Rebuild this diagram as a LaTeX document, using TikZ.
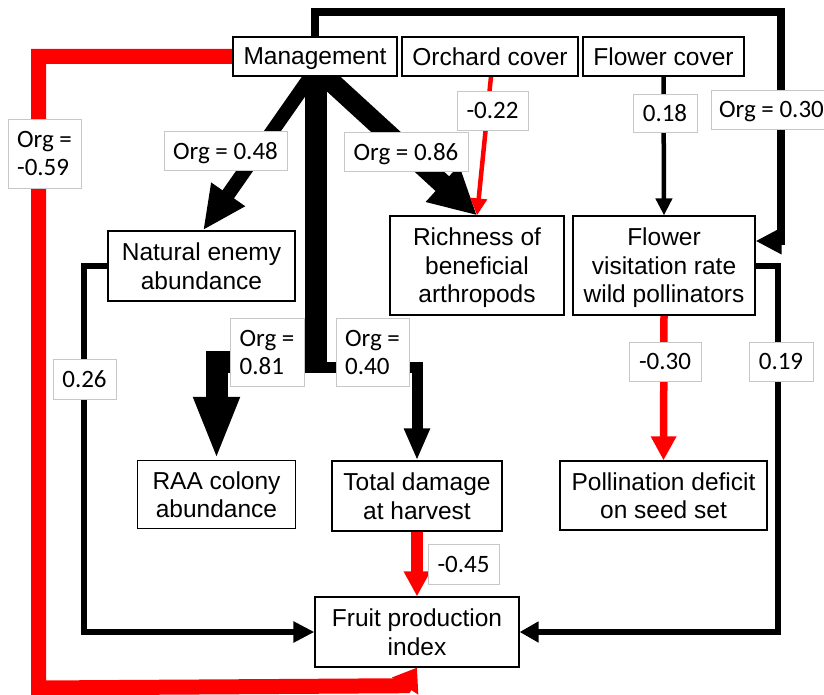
\documentclass[tikz,border=0pt]{standalone}
\usepackage{fontspec}
\setmainfont{Liberation Sans}
\newfontfamily\calib{Carlito}
\usetikzlibrary{arrows.meta}
\pgfdeclarelayer{bg}
\pgfsetlayers{bg,main}
\definecolor{pathred}{RGB}{255,0,0}
\begin{document}
\begin{tikzpicture}[x=1pt,y=-1pt,
  box/.style={draw=black,line width=1.2pt,fill=white,inner sep=0pt,align=center,
              text depth=0pt,font=\fontsize{24.5}{28.5}\selectfont},
  lab/.style={draw=black!22,line width=0.8pt,fill=white,inner sep=0pt,align=left,
              text depth=0pt,font=\calib\fontsize{25}{28}\selectfont},
  conn/.style={line join=miter,line cap=butt},
  negpath/.style={conn,draw=pathred},
  pospath/.style={conn,draw=black},
]
\useasboundingbox (0,0) rectangle (824,695);

% ---------------- nodes ----------------
\node[box,minimum width=164pt,minimum height=39pt] (M)  at (315,56.5)  {Management};
\node[box,minimum width=176pt,minimum height=39pt] (OC) at (490,56.5)  {Orchard cover};
\node[box,minimum width=161pt,minimum height=39pt] (FC) at (663.5,56.5){Flower cover};
\node[box,minimum width=187pt,minimum height=70pt] (NE) at (201.5,266) {Natural enemy\\abundance};
\node[box,minimum width=174pt,minimum height=99pt] (R)  at (477,265.5) {Richness of\\beneficial\\arthropods};
\node[box,minimum width=182pt,minimum height=99pt] (FV) at (664,265.5) {Flower\\visitation rate\\wild pollinators};
\node[box,minimum width=158pt,minimum height=68pt] (RAA) at (216.5,494.5) {RAA colony\\abundance};
\node[box,minimum width=170pt,minimum height=70pt] (TD) at (417,496)   {Total damage\\at harvest};
\node[box,minimum width=207pt,minimum height=69pt] (PD) at (663.5,495.5){Pollination deficit\\on seed set};
\node[box,minimum width=204pt,minimum height=70pt] (F)  at (417,632)   {Fruit production\\index};

% ---------------- labels ----------------
\node[lab,minimum width=73pt,minimum height=69pt]  (l59) at (44.5,153.5) {Org =\\-0.59};
\node[lab,minimum width=123pt,minimum height=39pt] (l48) at (225.5,150.5) {Org = 0.48};
\node[lab,minimum width=124pt,minimum height=39pt] (l86) at (406,151.5) {Org = 0.86};
\node[lab,minimum width=71pt,minimum height=39pt]  (l22) at (492.5,110.5) {-0.22};
\node[lab,minimum width=64pt,minimum height=38pt]  (l18) at (665,113) {0.18};
\node[lab,minimum width=121pt,minimum height=39pt] (l30) at (771.5,109.5) {Org = 0.30};
\node[lab,minimum width=63pt,minimum height=40pt]  (l26) at (84.5,379) {0.26};
\node[lab,minimum width=74pt,minimum height=68pt]  (l81) at (267,352) {Org =\\0.81};
\node[lab,minimum width=73pt,minimum height=68pt]  (l40) at (372.5,352) {Org =\\0.40};
\node[lab,minimum width=72pt,minimum height=39pt]  (l30b) at (665,361.5) {-0.30};
\node[lab,minimum width=64pt,minimum height=39pt]  (l19) at (781,361.5) {0.19};
\node[lab,minimum width=71pt,minimum height=40pt]  (l45) at (463.5,564) {-0.45};

% ---------------- connectors ----------------
\begin{pgfonlayer}{bg}
\coordinate (tb) at (316,362);
\coordinate (tr) at (316,367);
% Management -> RAA (trunk)
\draw[pospath,line width=22pt,-{Triangle[length=63pt,width=42pt]}]
  ([xshift=1pt,yshift=4pt]M.south) -- (tb) -| (RAA.north);
% Management -> Total damage
\draw[pospath,line width=11pt,-{Triangle[length=32pt,width=24pt]}]
  (tr) -| (TD.north);
% Management -> Natural enemy
\draw[pospath,line width=14pt,-{Triangle[length=44pt,width=38pt]}]
  ([xshift=-1pt,yshift=5pt]M.south) -- ([xshift=1.5pt]NE.north);
% Management -> Richness
\draw[pospath,line width=20pt,-{Triangle[length=47pt,width=46pt]}]
  ([xshift=5pt,yshift=5pt]M.south) -- (R.north);
% Orchard cover -> Richness
\draw[negpath,line width=4.5pt,-{Triangle[length=17pt,width=16pt]}]
  ([xshift=1pt]OC.south) -- (R.north);
% Flower cover -> visitation
\draw[pospath,line width=4.5pt,-{Triangle[length=17pt,width=16pt]}]
  (FC.south) -- (FV.north);
% Management -> visitation (Org = 0.30)
\draw[pospath,line width=7.5pt,-{Triangle[length=26pt,width=25pt]}]
  (M.north) -- (315,12) -| (781,241) -- ([yshift=24.5pt]FV.east);
% visitation -> Fruit (0.19)
\draw[pospath,line width=6pt,-{Triangle[length=19pt,width=20pt]}]
  ([yshift=-0.5pt]FV.east) -- (778,266) |- (F.east);
% Natural enemy -> Fruit (0.26)
\draw[pospath,line width=6pt,-{Triangle[length=21pt,width=20pt]}]
  (NE.west) -- (84,266) |- (F.west);
% Total damage -> Fruit (-0.45)
\draw[negpath,line width=12pt,-{Triangle[length=25pt,width=25pt]}]
  (TD.south) -- (F.north);
% visitation -> Pollination deficit (-0.30)
\draw[negpath,line width=7.5pt,-{Triangle[length=24pt,width=24pt]}]
  (FV.south) -- (PD.north);
% Management -> Fruit (Org = -0.59)
\draw[negpath,line width=15pt,-{Triangle[length=22pt,width=30pt]}]
  (M.west) -- (38.5,56.5) -- (38.5,688) -- (405.3,685.7) -- (F.south);
\end{pgfonlayer}
\end{tikzpicture}
\end{document}
